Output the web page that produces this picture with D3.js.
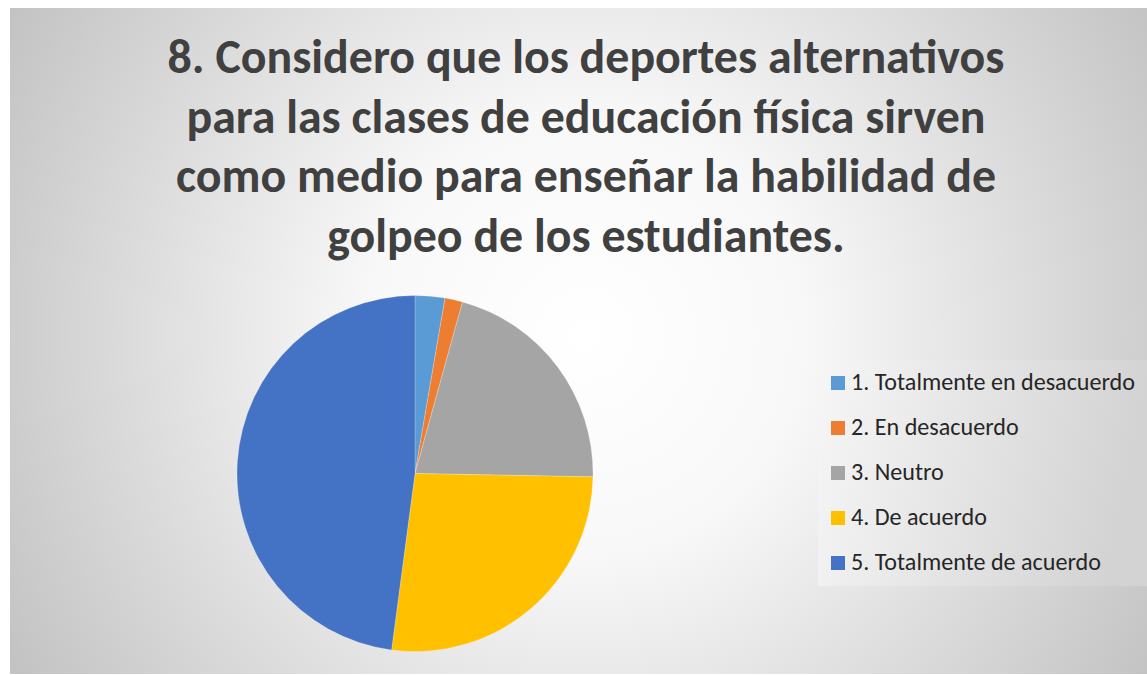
<!DOCTYPE html>
<html>
<head>
<meta charset="utf-8">
<script src="https://cdn.jsdelivr.net/npm/d3@7"></script>
<style>
  html, body { margin: 0; padding: 0; background: #ffffff; }
  svg { display: block; }
</style>
</head>
<body>
<svg id="chart" width="1147" height="675"></svg>
<script>
// Survey answers for question 8 (share of respondents, %)
const categories = [
  "1. Totalmente en desacuerdo",
  "2. En desacuerdo",
  "3. Neutro",
  "4. De acuerdo",
  "5. Totalmente de acuerdo"
];
const values = [2.7, 1.6, 21.0, 26.8, 47.9];
const colors = ["#5B9BD5", "#ED7D31", "#A5A5A5", "#FFC000", "#4472C4"];
const titleLines = [
  "8. Considero que los deportes alternativos",
  "para las clases de educación física sirven",
  "como medio para enseñar la habilidad de",
  "golpeo de los estudiantes."
];

const W = 1147, H = 675;
const svg = d3.select("#chart");
const defs = svg.append("defs");

// Chart area: radial grey fill, brightest in the middle
const bg = defs.append("radialGradient")
  .attr("id", "bgGrad")
  .attr("gradientUnits", "userSpaceOnUse")
  .attr("cx", 585).attr("cy", 335).attr("r", 660);
bg.append("stop").attr("offset", 0).attr("stop-color", "#ffffff");
bg.append("stop").attr("offset", 0.33).attr("stop-color", "#f8f8f8");
bg.append("stop").attr("offset", 1).attr("stop-color", "#c3c3c3");

const lg = defs.append("linearGradient")
  .attr("id", "legendGrad")
  .attr("x1", 0).attr("y1", 0).attr("x2", 1).attr("y2", 0.15);
lg.append("stop").attr("offset", 0).attr("stop-color", "#f6f6f6");
lg.append("stop").attr("offset", 1).attr("stop-color", "#d3d3d3");

svg.append("rect")
  .attr("x", 10).attr("y", 8)
  .attr("width", W - 10).attr("height", 666)
  .attr("fill", "url(#bgGrad)");

// Title
const titleFont = "Carlito, Calibri, Lato, sans-serif";
const title = svg.append("g").attr("fill", "#404040")
  .attr("font-family", titleFont).attr("font-weight", "bold")
  .attr("text-anchor", "middle");
const titleTexts = title.selectAll("text").data(titleLines).join("text")
  .attr("x", 586)
  .attr("y", (d, i) => 73 + i * 59.5)
  .attr("font-size", 44)
  .text(d => d);
// fit the first line to its target width
{
  const w = titleTexts.node().getComputedTextLength();
  const fs = 44 * 837 / w;
  titleTexts.attr("font-size", fs);
}

// Pie
const cx = 415, cy = 473.5, R = 178;
const pie = d3.pie().sort(null).value(d => d)
  .startAngle(0).endAngle(2 * Math.PI);
const arc = d3.arc().innerRadius(0).outerRadius(R);
const color = d3.scaleOrdinal().domain(categories).range(colors);

svg.append("g")
  .attr("transform", `translate(${cx},${cy})`)
  .selectAll("path")
  .data(pie(values))
  .join("path")
  .attr("d", arc)
  .attr("fill", (d, i) => color(categories[i]))
  .attr("stroke", "#ffffff")
  .attr("stroke-opacity", 0.35)
  .attr("stroke-width", 0.6);

// Legend
const legend = svg.append("g");
legend.append("rect")
  .attr("x", 818).attr("y", 360)
  .attr("width", W - 818).attr("height", 226)
  .attr("fill", "url(#legendGrad)");

const rowY = d3.scalePoint().domain(categories).range([390, 570]);
const rows = legend.selectAll("g.row").data(categories).join("g")
  .attr("class", "row")
  .attr("transform", d => `translate(0,${rowY(d)})`);
rows.append("rect")
  .attr("x", 831).attr("y", -14)
  .attr("width", 14).attr("height", 14)
  .attr("fill", d => color(d));
const labels = rows.append("text")
  .attr("x", 851).attr("y", 0)
  .attr("font-family", titleFont)
  .attr("font-size", 20)
  .attr("fill", "#262626")
  .text(d => d);
{
  const w = labels.node().getComputedTextLength();
  labels.attr("font-size", 20 * 284 / w);
}
</script>
</body>
</html>
